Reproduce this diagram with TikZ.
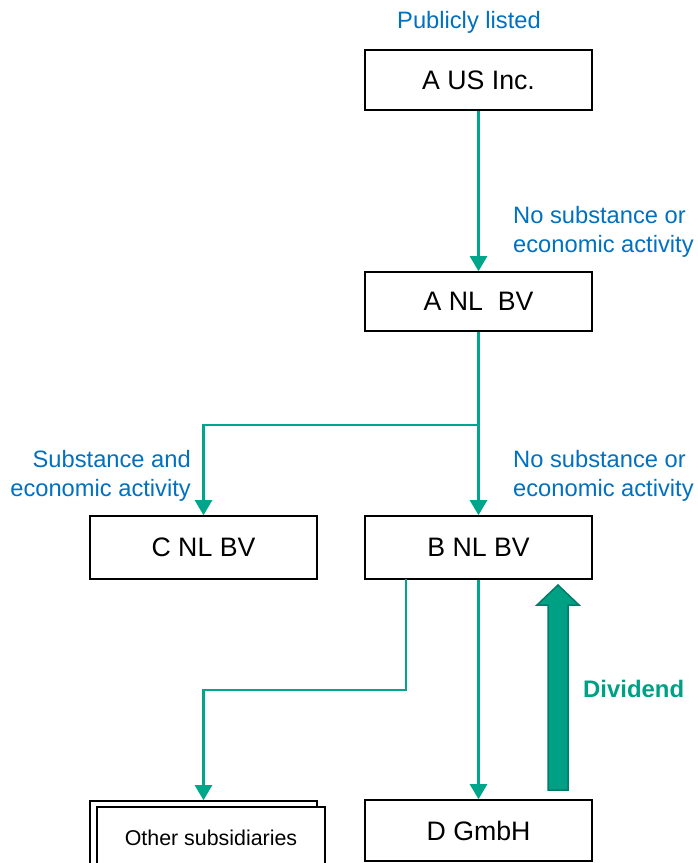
\documentclass[tikz,border=0pt]{standalone}
\usepackage{fontspec}
\setmainfont{Liberation Sans}
\usetikzlibrary{arrows.meta,calc}
\definecolor{teal1}{RGB}{0,166,140}
\definecolor{tealdark}{RGB}{0,125,105}
\definecolor{tealfill}{RGB}{0,160,132}
\definecolor{lblue}{RGB}{0,112,192}
\begin{document}
\begin{tikzpicture}[x=1pt,y=-1pt,
  entity/.style={draw=black,line width=1.6pt,fill=white,minimum width=227pt,inner sep=0pt,
    font=\fontsize{26.7}{30}\selectfont},
  conn/.style={draw=teal1,line width=2.4pt},
  tip/.style={-{Triangle[width=17pt,length=15pt]}},
  lbl/.style={text=lblue,font=\fontsize{23.7}{29}\selectfont,inner sep=0pt}]
\useasboundingbox (0,0) rectangle (697,863);
\clip (0,0) rectangle (697,863);

\node[lbl,anchor=center] (pub) at (469,22) {Publicly listed};
\node[entity,minimum height=60pt] (aus) at (478.5,80) {A US Inc.};
\node[entity,minimum height=59pt] (anl) at (478.5,301.5) {A NL\ \ BV};
\node[entity,minimum height=63pt] (cnl) at (203.5,547.5) {C NL BV};
\node[entity,minimum height=63pt] (bnl) at (478.5,547.5) {B NL BV};
\node[entity,minimum height=61pt] (dg) at (478.5,830.5) {D GmbH};
\node[entity,minimum height=70pt] (oback) at (203.5,836) {};
\node[entity,minimum width=228pt,minimum height=70pt] (ofront) at (211,842) {};
\node[font=\fontsize{21.4}{24}\selectfont,inner sep=0pt] (otext) at (211,838) {Other subsidiaries};

\node[lbl,anchor=west,align=left] (ns1) at (513,232) {No substance or\\economic activity};
\node[lbl,anchor=east,align=right] (sa) at (191,476) {Substance and\\economic activity};
\node[lbl,anchor=west,align=left] (ns2) at (513,476) {No substance or\\economic activity};

\coordinate (split) at (478.5,425);
\coordinate (bo) at (406,579);
\coordinate (bturn) at (406,690);

\draw[conn,tip] (aus.south) -- (anl.north);
\draw[conn] (anl.south) -- (split);
\draw[conn,tip] (split) -| (cnl.north);
\draw[conn,tip] (split) -- (bnl.north);
\draw[conn,tip] (bo) -- (bturn) -| (oback.north);
\draw[conn,tip] (bnl.south) -- (dg.north);

\fill[tealfill,draw=tealdark,line width=1.5pt,line join=miter]
  (548,790) -- (548,605) -- (537,605) -- (558,585) -- (579,605) -- (568,605) -- (568,790) -- cycle;
\node[text=tealfill,font=\bfseries\fontsize{23.9}{26}\selectfont,anchor=west,inner sep=0pt] (div) at (583,689) {Dividend};
\end{tikzpicture}
\end{document}
